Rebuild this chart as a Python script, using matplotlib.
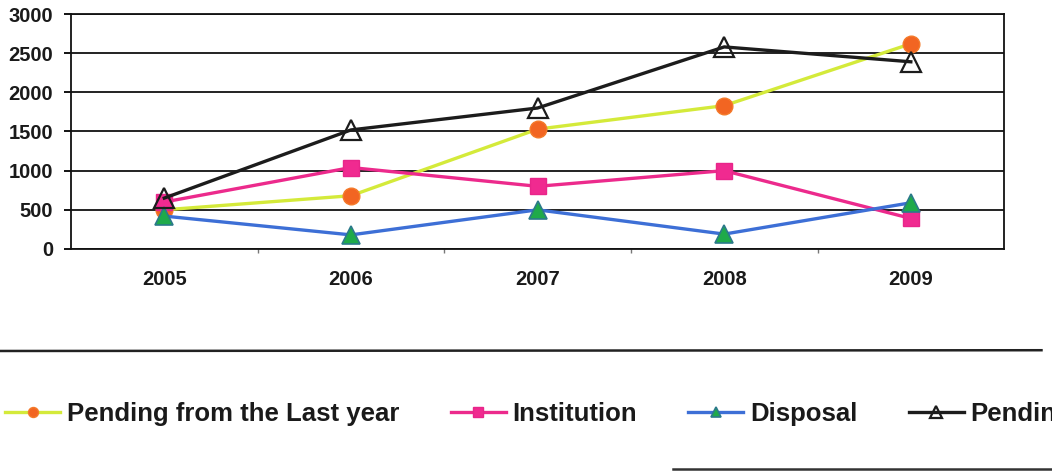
import matplotlib.pyplot as plt
from matplotlib.lines import Line2D
from matplotlib.ticker import FixedLocator

years = ["2005", "2006", "2007", "2008", "2009"]
pending_last_year = [500, 680, 1530, 1830, 2620]
institution = [600, 1040, 800, 1000, 390]
disposal = [420, 180, 500, 190, 590]
pending = [650, 1520, 1800, 2580, 2390]

plt.rcParams["font.family"] = ["Liberation Sans", "DejaVu Sans"]
plt.rcParams["font.weight"] = "bold"

fig = plt.figure(figsize=(10.52, 4.72), dpi=100)
ax = fig.add_axes([0.0675, 0.4725, 0.887, 0.4978])

x = range(len(years))

ax.plot(x, pending_last_year, color="#d4ea3a", lw=2.4, marker="o", ms=12,
        mfc="#f26522", mec="#f47a2a", mew=1, label="Pending from the Last year", zorder=3)
ax.plot(x, institution, color="#ec2a8c", lw=2.4, marker="s", ms=12,
        mfc="#f02a90", mec="#e8258a", label="Institution", zorder=4)
ax.plot(x, disposal, color="#3d6fd6", lw=2.4, marker="^", ms=13,
        mfc="#1faa4a", mec="#2b7a8a", mew=1.2, label="Disposal", zorder=5)
ax.plot(x, pending, color="#1c1c1c", lw=2.4, marker="^", ms=15,
        mfc="none", mec="#1c1c1c", mew=1.6, label="Pending", zorder=6)

ax.set_xlim(-0.5, len(years) - 0.5)
ax.set_ylim(0, 3000)
ax.set_yticks(range(0, 3001, 500))
ax.set_xticks(list(x))
ax.set_xticklabels(years)
ax.xaxis.set_minor_locator(FixedLocator([0.5, 1.5, 2.5, 3.5]))

ax.grid(axis="y", color="#111111", lw=1.3)
ax.set_axisbelow(True)
for s in ax.spines.values():
    s.set_color("#111111")
    s.set_linewidth(1.3)

ax.tick_params(axis="y", length=5, width=1.3, pad=8, labelsize=14.5)
ax.tick_params(axis="x", which="major", length=0, pad=15, labelsize=14.5)
ax.tick_params(axis="x", which="minor", length=3, width=1, color="#777777")
for lab in ax.get_xticklabels() + ax.get_yticklabels():
    lab.set_fontweight("bold")
    lab.set_color("#1a1a1a")

# rules above and below the key
fig.add_artist(Line2D([0, 0.99], [0.2564, 0.258], transform=fig.transFigure,
                      color="#222222", lw=1.8))
fig.add_artist(Line2D([0.64, 1.0], [0.006, 0.006], transform=fig.transFigure,
                      color="#333333", lw=1.8))

leg = fig.legend(loc="center left", bbox_to_anchor=(0.0, 0.122), ncol=4,
                 frameon=False, fontsize=18.5, handlelength=2.15, handletextpad=0.25,
                 columnspacing=2.0, markerscale=0.6, borderaxespad=0, borderpad=0.2)
for t in leg.get_texts():
    t.set_fontweight("bold")
    t.set_color("#1a1a1a")

fig.savefig("out.png", dpi=100)
